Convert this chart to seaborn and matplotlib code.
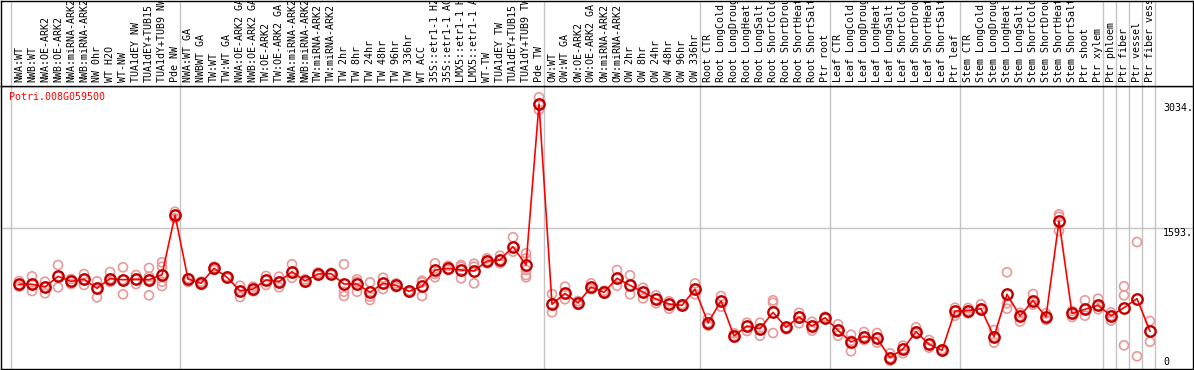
import numpy as np
import pandas as pd
import matplotlib
matplotlib.use("Agg")
import matplotlib.pyplot as plt
import seaborn as sns

gene = "Potri.008G059500"

labels = [
    "NWA:WT", "NWB:WT", "NWA:OE-ARK2", "NWB:OE-ARK2", "NWA:miRNA-ARK2", "NWB:miRNA-ARK2",
    "NW 0hr", "WT H2O", "WT-NW", "TUA1dEY NW", "TUA1dEY+TUB15", "TUA1dY+TUB9 NW", "Pde NW",
    "NWA:WT GA", "NWBWT GA", "TW:WT", "TW:WT GA", "NWA:OE-ARK2 GA", "NWB:OE-ARK2 GA",
    "TW:OE-ARK2", "TW:OE-ARK2 GA", "NWA:miRNA-ARK2", "NWB:miRNA-ARK2", "TW:miRNA-ARK2",
    "TW:miRNA-ARK2", "TW 2hr", "TW 8hr", "TW 24hr", "TW 48hr", "TW 96hr", "TW 336hr",
    "WT ACC", "35S::etr1-1 H2", "35S::etr1-1 AC", "LMX5::etr1-1 H", "LMX5::etr1-1 A",
    "WT-TW", "TUA1dEY TW", "TUA1dEY+TUB15", "TUA1dY+TUB9 TW", "Pde TW",
    "OW:WT", "OW:WT GA", "OW:OE-ARK2", "OW:OE-ARK2 GA", "OW:miRNA-ARK2", "OW:miRNA-ARK2",
    "OW 2hr", "OW 8hr", "OW 24hr", "OW 48hr", "OW 96hr", "OW 336hr",
    "Root CTR", "Root LongCold", "Root LongDroug", "Root LongHeat", "Root LongSalt",
    "Root ShortCold", "Root ShortDrou", "Root ShortHeat", "Root ShortSalt", "Ptr root",
    "Leaf CTR", "Leaf LongCold", "Leaf LongDroug", "Leaf LongHeat", "Leaf LongSalt",
    "Leaf ShortCold", "Leaf ShortDrou", "Leaf ShortHeat", "Leaf ShortSalt", "Ptr leaf",
    "Stem CTR", "Stem LongCold", "Stem LongDroug", "Stem LongHeat", "Stem LongSalt",
    "Stem ShortCold", "Stem ShortDrou", "Stem ShortHeat", "Stem ShortSalt", "Ptr shoot",
    "Ptr xylem", "Ptr phloem", "Ptr fiber", "Ptr vessel", "Ptr fiber vess",
]

means = [
    944, 944, 912, 1036, 978, 1002, 897, 1009, 997, 1002, 997, 1055, 1747,
    1005, 955, 1129, 1025, 866, 889, 994, 974, 1090, 982, 1063, 1067, 947, 947,
    851, 955, 932, 862, 920, 1109, 1129, 1109, 1098, 1214, 1225, 1380, 1167, 3034,
    712, 839, 727, 912, 851, 1013, 932, 854, 773, 715, 700, 886,
    498, 750, 344, 460, 429, 619, 445, 565, 460, 556,
    410, 275, 336, 318, 93, 194, 394, 248, 179, 634,
    638, 661, 336, 828, 576, 754, 565, 1677, 607, 654, 700,
    580, 672, 777, 399,
]

reps = [
    [982, 944, 916], [1036, 944, 866], [974, 912, 839], [1167, 1036, 909],
    [1005, 974, 947], [1063, 1002, 936], [978, 897, 793], [1086, 1009, 970],
    [1141, 997, 828], [1051, 997, 947], [1133, 1032, 997, 816],
    [1199, 1148, 1055, 974, 924], [1785, 1747, 1709],
    [1015, 1005, 970], [974, 955, 936], [1148, 1129, 1109], [1035, 1025, 1015],
    [927, 866, 796], [916, 889, 862], [1040, 994, 936], [1032, 974, 909],
    [1176, 1090, 1020], [1002, 982, 962], [1080, 1063, 1045], [1078, 1067, 1055],
    [1176, 858, 808], [1002, 974, 858], [967, 800, 762], [1020, 955, 889],
    [955, 932, 909], [869, 866, 851], [985, 967, 808], [1187, 1063, 1025],
    [1159, 1121, 1109], [1167, 1148, 1013], [1182, 1148, 955], [1245, 1214, 1187],
    [1275, 1225, 1187], [1489, 1380, 1322], [1303, 1245, 1109, 1051, 1025],
    [3112, 3034, 2965],
    [831, 712, 619], [916, 839, 770], [750, 727, 705], [955, 912, 889],
    [869, 851, 835], [1109, 1013, 927], [1048, 932, 828], [904, 854, 781],
    [816, 773, 723], [747, 715, 661], [715, 700, 690], [955, 886, 828],
    [549, 498, 464], [808, 750, 684], [376, 344, 330], [498, 460, 402],
    [498, 429, 348], [758, 730, 379], [445, 440, 422], [614, 565, 492],
    [510, 460, 406], [568, 556, 545],
    [480, 410, 348], [359, 290, 167], [391, 336, 298], [379, 318, 267],
    [144, 93, 58], [232, 194, 144], [445, 394, 376], [298, 248, 209],
    [190, 179, 170], [672, 634, 580],
    [669, 638, 607], [712, 661, 646], [414, 336, 267], [1083, 723, 661],
    [614, 576, 510], [831, 754, 707], [607, 565, 530], [1755, 1727, 1562],
    [634, 607, 565], [758, 654, 580], [777, 700, 654],
    [619, 580, 522], [920, 816, 236], [1434, 109], [518, 278],
]

group_starts = [0, 13, 41, 53, 63, 73, 84, 85, 86, 87, 88]
ytick_vals = [3034, 1593, 0]
ytick_text = ["3034.", "1593.", "0"]

sns.set_theme(style="white")
plt.rcParams["font.family"] = ["DejaVu Sans Mono"]

W, H = 1194, 370
fig = plt.figure(figsize=(W / 100, H / 100), dpi=100)
fig.patch.set_facecolor("white")

ax = fig.add_axes([1 / W, 1 / H, 1192 / W, 283 / H])
axl = fig.add_axes([1 / W, 284 / H, 1192 / W, 85.5 / H])

x0 = (1 - 19) / 13
x1 = (1193 - 19) / 13
yfac = 11.593
ax.set_xlim(x0, x1)
ax.set_ylim(-3.3 * yfac, 279.7 * yfac)
axl.set_xlim(x0, x1)
axl.set_ylim(0, 1)

for a in (ax, axl):
    a.set_xticks([])
    a.set_yticks([])
    a.set_facecolor("white")
    for s in a.spines.values():
        s.set_color("black")
        s.set_linewidth(1.0)
        s.set_visible(True)

grid_c = "#c4c4c4"
ax.axhline(1593, color=grid_c, lw=1, zorder=0.5)
for g in group_starts:
    ax.axvline(g - 0.615, color=grid_c, lw=1, zorder=0.5)
    axl.axvline(g - 0.615, color=grid_c, lw=1, zorder=0.5)

# replicate points
rx, ry = [], []
for i, r in enumerate(reps):
    for v in r:
        rx.append(i)
        ry.append(v)
df_reps = pd.DataFrame({"x": rx, "v": ry})
sns.scatterplot(data=df_reps, x="x", y="v", ax=ax, marker="o", s=42,
                color="#ea9898", linewidth=1.2, zorder=2, legend=False)
coll = ax.collections[-1]
coll.set_facecolor("none")
coll.set_edgecolor("#ea9898")

# means
df_m = pd.DataFrame({"x": np.arange(len(means)), "v": means})
sns.lineplot(data=df_m, x="x", y="v", ax=ax, color="#ff0000", lw=1.2,
             marker="o", markersize=7.5, markerfacecolor="none",
             markeredgecolor="#c00000", markeredgewidth=1.7, zorder=3,
             legend=False)
ax.set_xlabel("")
ax.set_ylabel("")

for i, lab in enumerate(labels):
    axl.text(i, 3.5 / 85.5, lab, rotation=90, ha="center", va="bottom",
             fontsize=7.2, color="black", clip_on=True)

ax.text(8 / 1192, (369 - 97) / 283, gene, transform=ax.transAxes,
        ha="left", va="center", fontsize=7.2, color="red")

for v, t in zip(ytick_vals, ytick_text):
    yy = v - 4.5 * yfac if v > 0 else v + 4 * yfac
    ax.text(1162 / 1192, yy, t, transform=ax.get_yaxis_transform(),
            ha="left", va="center", fontsize=7.2, color="black")

fig.savefig("out.png", dpi=100, facecolor="white")
